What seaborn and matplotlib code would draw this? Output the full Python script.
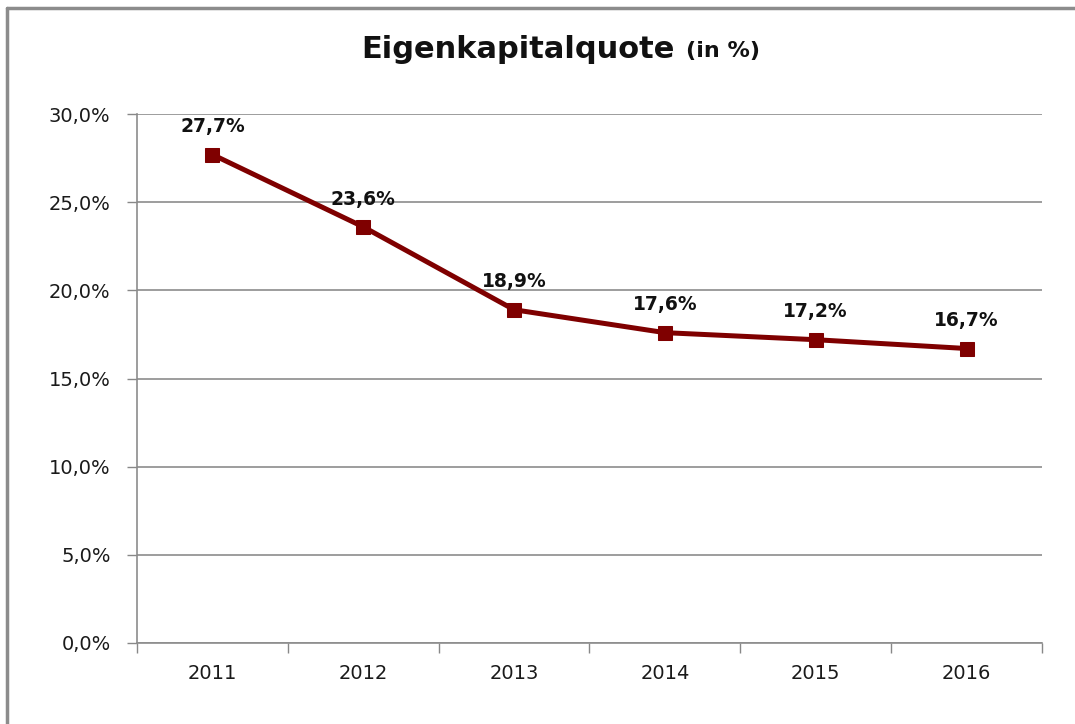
import matplotlib
matplotlib.use("Agg")
import matplotlib.pyplot as plt
import matplotlib.ticker as mticker
from matplotlib.lines import Line2D
import seaborn as sns
import pandas as pd

years = ["2011", "2012", "2013", "2014", "2015", "2016"]
quote = [27.7, 23.6, 18.9, 17.6, 17.2, 16.7]
labels = ["27,7%", "23,6%", "18,9%", "17,6%", "17,2%", "16,7%"]

sns.set_theme(style="white")
plt.rcParams['font.family'] = ['DejaVu Sans']

df = pd.DataFrame({"Jahr": years, "Quote": quote})

fig = plt.figure(figsize=(10.75, 7.24), dpi=100)
ax = fig.add_axes([137/1075, 1 - 643/724, (1042 - 137)/1075, (643 - 114)/724])

line_color = "#7f0000"
sns.lineplot(data=df, x="Jahr", y="Quote", ax=ax, color=line_color, linewidth=3.6,
             marker="s", markersize=10, markeredgecolor=line_color, markerfacecolor=line_color,
             sort=False)

for i, (v, lab) in enumerate(zip(quote, labels)):
    ax.annotate(lab, xy=(i, v), xytext=(0, 20), textcoords="offset points",
                ha="center", va="center", fontsize=13.5, fontweight="bold", color="#111111")

ax.set_xlim(-0.5, len(years) - 0.5)
ax.set_ylim(0, 30)
ax.yaxis.set_major_locator(mticker.MultipleLocator(5))
ax.yaxis.set_major_formatter(mticker.FuncFormatter(lambda v, p: f"{v:.1f}%".replace(".", ",")))

ax.set_xticks([i - 0.5 for i in range(len(years) + 1)])
ax.set_xticklabels([])
ax.set_xticks(list(range(len(years))), minor=True)
ax.set_xticklabels(years, minor=True)
ax.tick_params(axis="x", which="major", length=7, width=1, color="#888888", direction="out", bottom=True)
ax.tick_params(axis="x", which="minor", length=0, pad=15, labelsize=14, labelcolor="#1a1a1a")
ax.tick_params(axis="y", length=7, width=1, color="#888888", direction="out", left=True,
               pad=12, labelsize=14, labelcolor="#1a1a1a")

ax.grid(axis="y", color="#8c8c8c", linewidth=1.2)
ax.grid(axis="x", visible=False)
ax.set_axisbelow(True)
ax.set_xlabel("")
ax.set_ylabel("")
for s in ["top", "right"]:
    ax.spines[s].set_visible(False)
for s in ["left", "bottom"]:
    ax.spines[s].set_color("#8c8c8c")
    ax.spines[s].set_linewidth(1.2)

# title
fig.text(675/1075, 1 - 49/724, "Eigenkapitalquote", ha="right", va="center",
         fontsize=22, fontweight="bold", color="#111111")
fig.text(686/1075, 1 - 51/724, "(in %)", ha="left", va="center",
         fontsize=16, fontweight="bold", color="#111111")

# outer frame (top and left edges visible)
fig.add_artist(Line2D([7/1075, 1.0], [1 - 8/724, 1 - 8/724], transform=fig.transFigure,
                      color="#8c8c8c", linewidth=2.5))
fig.add_artist(Line2D([7/1075, 7/1075], [0, 1 - 8/724], transform=fig.transFigure,
                      color="#8c8c8c", linewidth=2.5))

fig.savefig("out.png", dpi=100, facecolor="white")
